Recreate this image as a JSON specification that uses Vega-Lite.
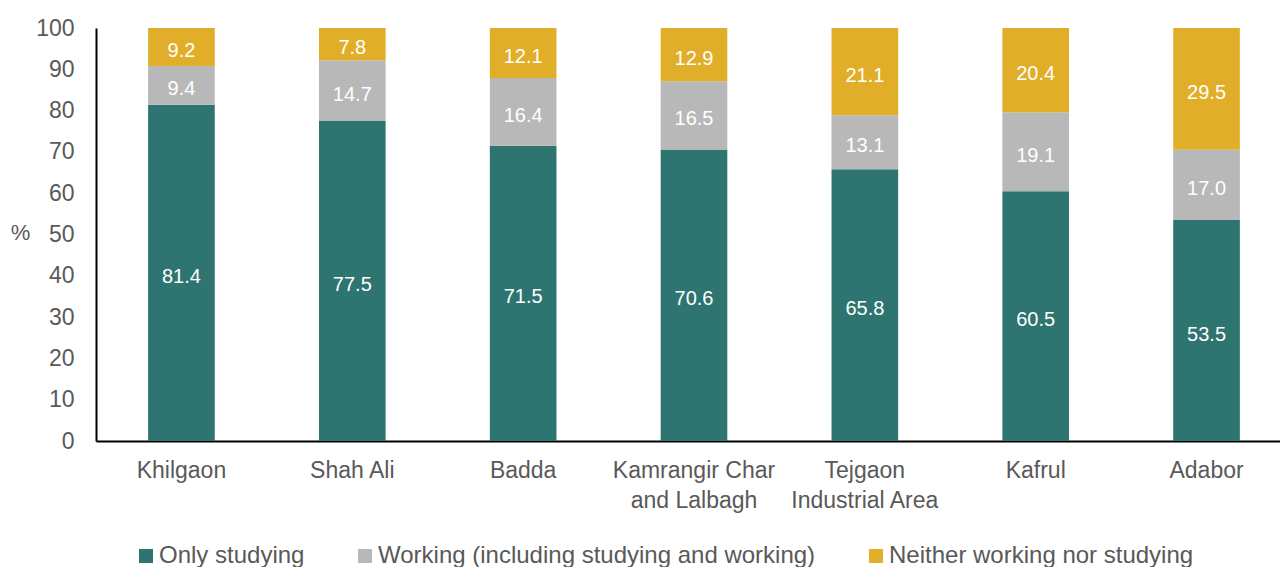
{
  "$schema": "https://vega.github.io/schema/vega-lite/v6.json",
  "width": 1184,
  "height": 413,
  "autosize": {"type": "none"},
  "padding": {"left": 96, "top": 28, "right": 0, "bottom": 126},
  "background": "white",
  "config": {
    "view": {"stroke": null},
    "font": "Liberation Sans"
  },
  "data": {
    "values": [
      {"area": "Khilgaon", "status": "Only studying", "ord": 1, "value": 81.4},
      {"area": "Khilgaon", "status": "Working (including studying and working)", "ord": 2, "value": 9.4},
      {"area": "Khilgaon", "status": "Neither working nor studying", "ord": 3, "value": 9.2},
      {"area": "Shah Ali", "status": "Only studying", "ord": 1, "value": 77.5},
      {"area": "Shah Ali", "status": "Working (including studying and working)", "ord": 2, "value": 14.7},
      {"area": "Shah Ali", "status": "Neither working nor studying", "ord": 3, "value": 7.8},
      {"area": "Badda", "status": "Only studying", "ord": 1, "value": 71.5},
      {"area": "Badda", "status": "Working (including studying and working)", "ord": 2, "value": 16.4},
      {"area": "Badda", "status": "Neither working nor studying", "ord": 3, "value": 12.1},
      {"area": "Kamrangir Char and Lalbagh", "status": "Only studying", "ord": 1, "value": 70.6},
      {"area": "Kamrangir Char and Lalbagh", "status": "Working (including studying and working)", "ord": 2, "value": 16.5},
      {"area": "Kamrangir Char and Lalbagh", "status": "Neither working nor studying", "ord": 3, "value": 12.9},
      {"area": "Tejgaon Industrial Area", "status": "Only studying", "ord": 1, "value": 65.8},
      {"area": "Tejgaon Industrial Area", "status": "Working (including studying and working)", "ord": 2, "value": 13.1},
      {"area": "Tejgaon Industrial Area", "status": "Neither working nor studying", "ord": 3, "value": 21.1},
      {"area": "Kafrul", "status": "Only studying", "ord": 1, "value": 60.5},
      {"area": "Kafrul", "status": "Working (including studying and working)", "ord": 2, "value": 19.1},
      {"area": "Kafrul", "status": "Neither working nor studying", "ord": 3, "value": 20.4},
      {"area": "Adabor", "status": "Only studying", "ord": 1, "value": 53.5},
      {"area": "Adabor", "status": "Working (including studying and working)", "ord": 2, "value": 17.0},
      {"area": "Adabor", "status": "Neither working nor studying", "ord": 3, "value": 29.5}
    ]
  },
  "transform": [
    {"stack": "value", "groupby": ["area"], "sort": [{"field": "ord", "order": "ascending"}], "as": ["v0", "v1"]},
    {"calculate": "(datum.v0 + datum.v1) / 2", "as": "mid"}
  ],
  "encoding": {
    "x": {
      "field": "area",
      "type": "nominal",
      "sort": ["Khilgaon", "Shah Ali", "Badda", "Kamrangir Char and Lalbagh", "Tejgaon Industrial Area", "Kafrul", "Adabor"],
      "scale": {"paddingInner": 0.61, "paddingOuter": 0.27, "align": 0.565},
      "axis": {
        "title": null,
        "labelAngle": 0,
        "ticks": false,
        "domainColor": "black",
        "domainWidth": 2,
        "labelColor": "#595959",
        "labelFontSize": 23,
        "labelPadding": 29,
        "labelLineHeight": 30,
        "labelBaseline": "middle",
        "labelExpr": "datum.value == 'Kamrangir Char and Lalbagh' ? ['Kamrangir Char', 'and Lalbagh'] : datum.value == 'Tejgaon Industrial Area' ? ['Tejgaon', 'Industrial Area'] : datum.label"
      }
    }
  },
  "layer": [
    {
      "mark": {"type": "bar"},
      "encoding": {
        "y": {
          "field": "v0",
          "type": "quantitative",
          "scale": {"domain": [0, 100]},
          "axis": {
            "title": "%",
            "titleAngle": 0,
            "titleX": -76,
            "titleY": 204,
            "titleAlign": "center",
            "titleBaseline": "middle",
            "titleFontSize": 22,
            "titleFontWeight": "normal",
            "titleColor": "#595959",
            "values": [0, 10, 20, 30, 40, 50, 60, 70, 80, 90, 100],
            "labelOverlap": false,
            "grid": false,
            "ticks": false,
            "domainColor": "black",
            "domainWidth": 2,
            "labelColor": "#595959",
            "labelFontSize": 23,
            "labelPadding": 22
          }
        },
        "y2": {"field": "v1"},
        "color": {
          "field": "status",
          "type": "nominal",
          "sort": ["Only studying", "Working (including studying and working)", "Neither working nor studying"],
          "scale": {
            "domain": ["Only studying", "Working (including studying and working)", "Neither working nor studying"],
            "range": ["#2E7470", "#B8B8B8", "#E0AE28"]
          },
          "legend": {
            "title": null,
            "orient": "none",
            "direction": "horizontal",
            "legendX": 38,
            "legendY": 516,
            "symbolType": "square",
            "symbolSize": 196,
            "symbolStrokeWidth": 0,
            "symbolOpacity": 1,
            "labelFontSize": 24,
            "labelColor": "#595959",
            "labelOffset": 1,
            "labelLimit": 700,
            "columnPadding": 48
          }
        }
      }
    },
    {
      "mark": {"type": "text", "color": "white", "fontSize": 20, "baseline": "middle", "align": "center", "dy": 4},
      "encoding": {
        "y": {"field": "mid", "type": "quantitative"},
        "text": {"field": "value", "type": "quantitative", "format": ".1f"}
      }
    }
  ]
}
